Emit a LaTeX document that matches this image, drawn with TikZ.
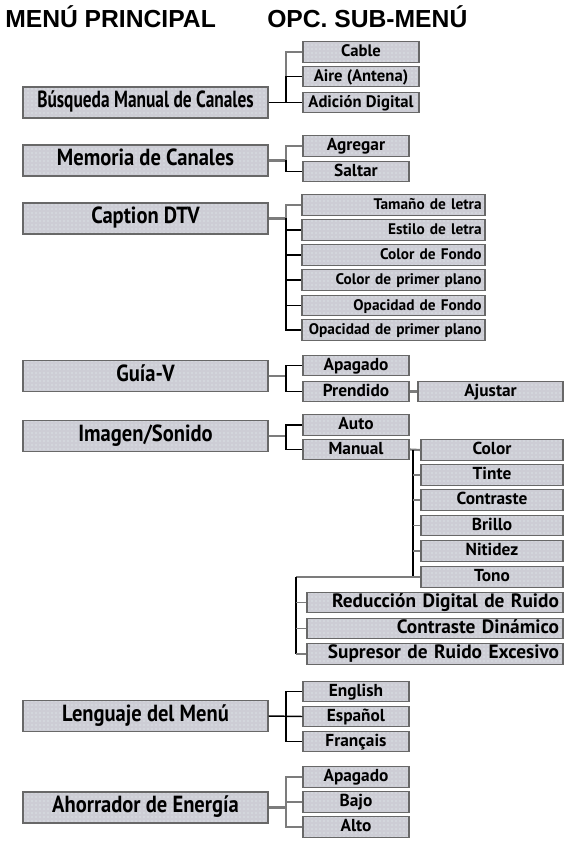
\documentclass[tikz,border=0pt]{standalone}
\usepackage{fontspec}
\usepackage{graphicx}
\setmainfont{PT Sans}
\newfontfamily\titlefont{Liberation Sans}
\usetikzlibrary{patterns}
\definecolor{boxfill}{HTML}{CDCDD5}
\definecolor{boxedge}{HTML}{686868}
\definecolor{dotc}{HTML}{E8F4F4}
\definecolor{lgray}{HTML}{7C7C7C}
\newcommand{\mtxt}[1]{\scalebox{0.88}[1]{#1}}
\begin{document}
\begin{tikzpicture}[x=0.75pt,y=-0.75pt,
  box/.style={draw=boxedge, line width=0.8pt, preaction={fill=boxfill}, pattern=dots, pattern color=dotc, inner sep=0pt, text height=0.75em, text depth=0.02em},
  mainbox/.style={box, minimum width=183.75pt, minimum height=23.25pt, text height=0.8em, text depth=0em, font=\bfseries\fontsize{17.5}{17.5}\selectfont},
  sub/.style={box, minimum height=15.5pt, font=\bfseries\fontsize{13}{13}\selectfont},
  wa/.style={sub, minimum width=79.5pt},
  wb/.style={sub, minimum width=87pt, font=\bfseries\fontsize{12.5}{12.5}\selectfont},
  wc/.style={sub, inner xsep=2.5pt, text width=132.25pt, align=right, font=\bfseries\fontsize{11.5}{11.5}\selectfont},
  wd/.style={sub, minimum width=108.75pt},
  we/.style={sub, minimum width=106.5pt},
  wf/.style={sub, inner xsep=3pt, text width=186pt, align=right, font=\bfseries\fontsize{14.5}{14.5}\selectfont},
  blk/.style={draw=black, line width=1.1pt},
  gry/.style={draw=lgray, line width=1.6pt},
  title/.style={anchor=base west, inner sep=0pt, font=\titlefont\bfseries\fontsize{18.5}{18.5}\selectfont}
]
\useasboundingbox (0,0) rectangle (565,841);
\node[title] (t1) at (5,28) {MENÚ PRINCIPAL};
\node[title] (t2) at (267,28) {OPC. SUB-MENÚ};

\coordinate (J) at (286,0);
\coordinate (K) at (413,0);
\coordinate (L) at (296,0);

% Busqueda
\node[mainbox] (m1) at (145.5,102.5) {\scalebox{0.745}[1]{Búsqueda Manual de Canales}};
\node[wb] (a1) at (361,52) {Cable};
\node[wb] (a2) at (361,76.5) {Aire (Antena)};
\node[wb] (a3) at (361,102.5) {Adición Digital};
\draw[gry] (a1.west) -- (a1.west -| J) -- (a2.west -| J);
\draw[blk] (a2.west -| J) -- (a3.west -| J);
\draw[blk] (a2.west -| J) -- (a2.west);
\draw[blk] (m1.east) -- (a3.west);

% Memoria
\node[mainbox] (m2) at (145.5,160.5) {\mtxt{Memoria de Canales}};
\node[wa] (b1) at (356,146) {Agregar};
\node[wa] (b2) at (356,171.5) {Saltar};
\draw[gry] (m2.east) -- (m2.east -| J);
\draw[gry] (b1.west) -- (b1.west -| J) -- (m2.east -| J);
\draw[blk] (m2.east -| J) -- (b2.west -| J) -- (b2.west);

% Caption
\node[mainbox] (m3) at (145.5,218.5) {\mtxt{Caption DTV}};
\node[wc] (c1) at (393.5,205) {Tamaño de letra};
\node[wc] (c2) at (393.5,230) {Estilo de letra};
\node[wc] (c3) at (393.5,255) {Color de Fondo};
\node[wc] (c4) at (393.5,280) {Color de primer plano};
\node[wc] (c5) at (393.5,305.5) {Opacidad de Fondo};
\node[wc] (c6) at (393.5,330) {Opacidad de primer plano};
\draw[gry] (m3.east) -- (m3.east -| J);
\draw[gry] (c1.west) -- (c1.west -| J) -- (m3.east -| J);
\draw[blk] (m3.east -| J) -- (c6.west -| J) -- (c6.west);
\foreach \n in {c2,c3,c4,c5} \draw[blk] (\n.west -| J) -- (\n.west);

% Guia-V
\node[mainbox] (m4) at (145.5,376) {\mtxt{Guía-V}};
\node[wa] (d1) at (356,365.5) {Apagado};
\node[wa] (d2) at (356,391.5) {Prendido};
\node[wd] (d3) at (490.5,391.5) {Ajustar};
\draw[gry] (m4.east) -- (m4.east -| J);
\draw[blk] (d1.west) -- (d1.west -| J) -- (d2.west -| J) -- (d2.west);
\draw[gry] (d2.east) -- (d3.west);

% Imagen/Sonido
\node[mainbox] (m5) at (145.5,436) {\mtxt{Imagen/Sonido}};
\node[wa] (e1) at (356,425) {Auto};
\node[wa] (e2) at (356,449.5) {Manual};
\draw[gry] (m5.east) -- (m5.east -| J);
\draw[blk] (e1.west) -- (e1.west -| J) -- (e2.west -| J) -- (e2.west);
\node[we] (f1) at (492,450) {Color};
\node[we] (f2) at (492,475) {Tinte};
\node[we] (f3) at (492,500) {Contraste};
\node[we] (f4) at (492,525.5) {Brillo};
\node[we] (f5) at (492,551) {Nitidez};
\node[we] (f6) at (492,577) {Tono};
\draw[gry] (e2.east) -- (f1.west);
\draw[blk] (f1.west -| K) -- (f6.west -| K);
\foreach \n in {f2,f3,f4,f5} \draw[gry, line width=1.2pt] (\n.west -| K) -- (\n.west);
\draw[gry] (f6.west) -- (f6.west -| L);
\node[wf] (g1) at (435,602.5) {Reducción Digital de Ruido};
\node[wf] (g2) at (435,628.5) {Contraste Dinámico};
\node[wf] (g3) at (435,654) {Supresor de Ruido Excesivo};
\draw[blk] (f6.west -| L) -- (g3.west -| L);
\foreach \n in {g1,g2,g3} \draw[gry, line width=1.2pt] (\n.west -| L) -- (\n.west);

% Lenguaje
\node[mainbox] (m6) at (145.5,716) {\mtxt{Lenguaje del Menú}};
\node[wa] (h1) at (356,691.5) {English};
\node[wa] (h2) at (356,716.5) {Español};
\node[wa] (h3) at (356,741.5) {Français};
\draw[blk] (m6.east) -- (h2.west);
\draw[blk] (h1.west) -- (h1.west -| J) -- (h3.west -| J) -- (h3.west);

% Ahorrador
\node[mainbox] (m7) at (145.5,807.5) {\mtxt{Ahorrador de Energía}};
\node[wa] (k1) at (356,777) {Apagado};
\node[wa] (k2) at (356,802) {Bajo};
\node[wa] (k3) at (356,827) {Alto};
\draw[gry] (m7.east) -- (m7.east -| J);
\draw[gry] (k1.west) -- (k1.west -| J) -- (k3.west -| J) -- (k3.west);
\draw[gry] (k2.west -| J) -- (k2.west);
\end{tikzpicture}
\end{document}
